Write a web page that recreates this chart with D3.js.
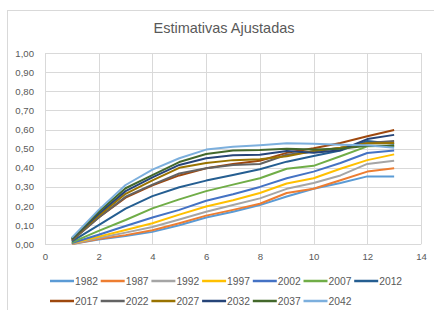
<!DOCTYPE html>
<html>
<head>
<meta charset="utf-8">
<script src="https://cdn.jsdelivr.net/npm/d3@7"></script>
<style>
  html, body { margin: 0; padding: 0; background: #fff; }
  svg { display: block; font-family: "Liberation Sans", Arial, sans-serif; }
</style>
</head>
<body>
<svg id="chart" width="434" height="310"></svg>
<script>
// x values (periods 1..13)
const xs = [1, 2, 3, 4, 5, 6, 7, 8, 9, 10, 11, 12, 13];
const years = ['1982', '1987', '1992', '1997', '2002', '2007', '2012',
               '2017', '2022', '2027', '2032', '2037', '2042'];
const colors = ['#5b9bd5', '#ed7d31', '#a5a5a5', '#ffc000', '#4472c4', '#70ad47', '#255e91',
                '#9e480e', '#636363', '#997300', '#264478', '#43682b', '#7cafdd'];

const s1982 = [0.001, 0.025, 0.043, 0.065, 0.100, 0.140, 0.170, 0.205, 0.250, 0.290, 0.320, 0.355, 0.355];
const s1987 = [0.002, 0.028, 0.048, 0.073, 0.110, 0.150, 0.180, 0.212, 0.268, 0.290, 0.335, 0.380, 0.397];
const s1992 = [0.003, 0.033, 0.061, 0.090, 0.130, 0.170, 0.205, 0.240, 0.290, 0.320, 0.360, 0.420, 0.437];
const s1997 = [0.005, 0.040, 0.075, 0.110, 0.155, 0.198, 0.230, 0.268, 0.318, 0.345, 0.395, 0.440, 0.470];
const s2002 = [0.007, 0.050, 0.096, 0.140, 0.180, 0.228, 0.262, 0.300, 0.345, 0.380, 0.425, 0.477, 0.490];
const s2007 = [0.010, 0.070, 0.127, 0.188, 0.235, 0.278, 0.312, 0.345, 0.395, 0.410, 0.460, 0.512, 0.515];
const s2012 = [0.015, 0.100, 0.186, 0.252, 0.298, 0.333, 0.362, 0.392, 0.432, 0.462, 0.490, 0.540, 0.525];
const s2017 = [0.020, 0.140, 0.244, 0.308, 0.360, 0.397, 0.420, 0.437, 0.478, 0.502, 0.530, 0.565, 0.597];
const s2022 = [0.020, 0.140, 0.249, 0.312, 0.370, 0.397, 0.415, 0.420, 0.468, 0.485, 0.505, 0.530, 0.540];
const s2027 = [0.025, 0.150, 0.264, 0.334, 0.400, 0.425, 0.440, 0.445, 0.460, 0.488, 0.505, 0.528, 0.530];
const s2032 = [0.028, 0.160, 0.278, 0.350, 0.415, 0.450, 0.466, 0.468, 0.488, 0.478, 0.492, 0.550, 0.572];
const s2037 = [0.030, 0.170, 0.293, 0.362, 0.430, 0.472, 0.490, 0.493, 0.500, 0.495, 0.500, 0.515, 0.515];
const s2042 = [0.035, 0.180, 0.310, 0.390, 0.450, 0.495, 0.510, 0.518, 0.528, 0.525, 0.520, 0.518, 0.505];
const seriesValues = [s1982, s1987, s1992, s1997, s2002, s2007, s2012,
                      s2017, s2022, s2027, s2032, s2037, s2042];

const xTicks = [0, 2, 4, 6, 8, 10, 12, 14];
const yTicks = [0, 0.1, 0.2, 0.3, 0.4, 0.5, 0.6, 0.7, 0.8, 0.9, 1.0];
const title = 'Estimativas Ajustadas';

const svg = d3.select('#chart');
const textColor = '#595959';
const gridColor = '#d9d9d9';

// chart area border (extends past the right/bottom of the window)
svg.append('rect').attr('x', 7.5).attr('y', 10.5).attr('width', 440).attr('height', 310)
  .attr('fill', '#fff').attr('stroke', gridColor).attr('stroke-width', 1);

svg.append('text').attr('x', 224).attr('y', 33).attr('text-anchor', 'middle')
  .attr('fill', textColor).attr('font-size', 14.5).text(title);

const x = d3.scaleLinear().domain([0, 14]).range([45, 421]);
const y = d3.scaleLinear().domain([0, 1]).range([244.3, 53]);

const g = svg.append('g');

// gridlines
g.append('g').selectAll('line').data(yTicks).join('line')
  .attr('x1', x(0)).attr('x2', x(14))
  .attr('y1', d => Math.round(y(d)) + 0.5).attr('y2', d => Math.round(y(d)) + 0.5)
  .attr('stroke', gridColor).attr('stroke-width', 1);
g.append('g').selectAll('line').data(xTicks).join('line')
  .attr('y1', y(0)).attr('y2', y(1))
  .attr('x1', d => Math.round(x(d)) + 0.5).attr('x2', d => Math.round(x(d)) + 0.5)
  .attr('stroke', gridColor).attr('stroke-width', 1);

// axes (labels only, Excel style)
const fmt = d => d3.format('.2f')(d).replace('.', ',');
const yAxis = g.append('g').attr('transform', `translate(${x(0) - 9},0)`)
  .call(d3.axisLeft(y).tickValues(yTicks).tickFormat(fmt).tickSize(0).tickPadding(2));
yAxis.select('.domain').remove();
yAxis.selectAll('text').attr('fill', textColor).attr('font-size', 9.6)
  .attr('font-family', '"Liberation Sans", Arial, sans-serif');

const xAxis = g.append('g').attr('transform', `translate(0,${y(0) + 7})`)
  .call(d3.axisBottom(x).tickValues(xTicks).tickFormat(d3.format('d')).tickSize(0).tickPadding(2));
xAxis.select('.domain').remove();
xAxis.selectAll('text').attr('fill', textColor).attr('font-size', 9.6)
  .attr('font-family', '"Liberation Sans", Arial, sans-serif');

// lines
const line = d3.line().x((d, i) => x(xs[i])).y(d => y(d));
g.append('g').selectAll('path').data(seriesValues).join('path')
  .attr('d', line)
  .attr('fill', 'none')
  .attr('stroke', (d, i) => colors[i])
  .attr('stroke-width', 2)
  .attr('stroke-linejoin', 'round');

// legend: two rows, left aligned
const legend = svg.append('g');
const itemW = 50.7;
years.forEach((yr, i) => {
  const row = i < 7 ? 0 : 1;
  const col = i < 7 ? i : i - 7;
  const lx = 50 + col * itemW;
  const ly = 281 + row * 20;
  legend.append('line').attr('x1', lx).attr('x2', lx + 24).attr('y1', ly).attr('y2', ly)
    .attr('stroke', colors[i]).attr('stroke-width', 2.5);
  legend.append('text').attr('x', lx + 25).attr('y', ly + 3.5)
    .attr('fill', textColor).attr('font-size', 10.3).text(yr);
});
</script>
</body>
</html>
